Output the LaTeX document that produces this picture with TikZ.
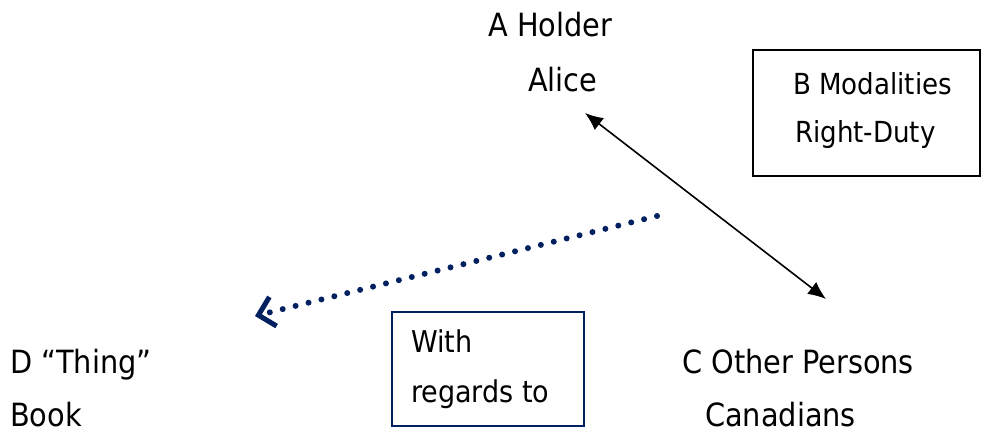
\documentclass[tikz,border=0pt]{standalone}
\usepackage{fontspec}
\setmainfont{DejaVu Sans Condensed}
\usetikzlibrary{arrows.meta}
\definecolor{navy}{RGB}{0,32,96}
\tikzset{
  x=1pt, y=-1pt,
  lbl/.style={inner sep=0pt, anchor=base west, font=\fontsize{32}{36}\selectfont},
  boxlbl/.style={lbl, font=\fontsize{29}{33}\selectfont},
  navylbl/.style={lbl, font=\fontsize{30}{34}\selectfont},
  link/.style={line width=1.6pt, {Latex[length=18pt,width=15pt]}-{Latex[length=18pt,width=15pt]}},
  dots/.style={navy, line width=6pt, line cap=round, dash pattern=on 0pt off 13.3pt,
    -{Straight Barb[length=15pt,width=30pt,line width=5pt]}},
}
\begin{document}
\begin{tikzpicture}
\useasboundingbox (0,0) rectangle (981,430);
% holder
\node[lbl] (holder) at (488,37) {A Holder};
\node[lbl] (alice) at (528,92) {Alice};
% modalities box
\draw[line width=1.2pt] (753,50) rectangle (980,176);
\node[boxlbl] (modal) at (793,95) {B Modalities};
\node[boxlbl] (duty) at (795,143) {Right-Duty};
% thing
\node[lbl] (thing) at (10,373) {D “Thing”};
\node[lbl] (book) at (10,426) {Book};
% other persons
\node[lbl] (other) at (682,373) {C Other Persons};
\node[lbl] (canad) at (705,426) {Canadians};
% with-regards box
\draw[navy, line width=2pt] (392,312) rectangle (584,426);
\node[navylbl] (with) at (411,352) {With};
\node[navylbl] (regards) at (411,402) {regards to};
% connectors
\coordinate (p1) at (585,113);
\coordinate (p2) at (826,299);
\draw[link] (p1) -- (p2);
\coordinate (s) at (657,216);
\coordinate (t) at (255,316);
\draw[dots] (s) -- (t);
\end{tikzpicture}
\end{document}
